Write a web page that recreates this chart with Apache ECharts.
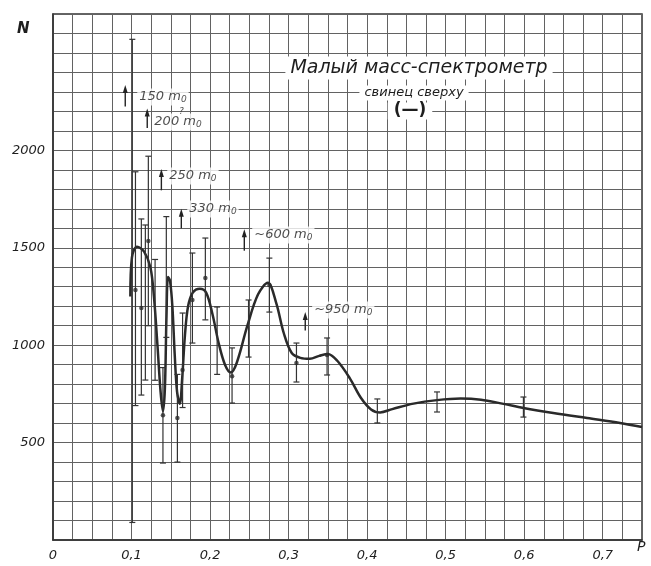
<!DOCTYPE html>
<html>
<head>
<meta charset="utf-8">
<script src="https://cdn.jsdelivr.net/npm/echarts@6/dist/echarts.min.js"></script>
<style>
html,body{margin:0;padding:0;background:#fff;}
#chart{width:651px;height:566px;}
</style>
</head>
<body>
<div id="chart"></div>
<script>
// Smooth curve (P, N)
const curveP = [0.0985,0.1005,0.107,0.116,0.124,0.1285,0.133,0.137,0.140,0.1425,0.1445,0.1465,0.149,0.152,0.155,0.158,0.1615,0.1645,0.168,0.172,0.178,0.187,0.195,0.203,0.211,0.219,0.2265,0.234,0.2475,0.261,0.2735,0.284,0.294,0.304,0.315,0.327,0.339,0.350,0.362,0.378,0.392,0.405,0.4165,0.432,0.459,0.489,0.519,0.545,0.572,0.599,0.637,0.680,0.722,0.750];
const curveN = [1250,1450,1505,1480,1400,1250,1000,760,660,780,1150,1350,1330,1200,950,760,700,830,1050,1200,1270,1290,1270,1160,1010,900,860,910,1100,1260,1320,1220,1060,960,935,930,945,955,920,830,730,670,655,672,700,718,726,720,700,678,652,626,601,580];

// Measured points with error bars
const pointP    = [0.101,0.105,0.1125,0.1176,0.1214,0.130,0.140,0.1443,0.1584,0.165,0.1775,0.194,0.209,0.228,0.249,0.2755,0.310,0.349,0.413,0.489,0.599];
const pointN    = [1330,1283,1191,1220,1535,1130,640,1340,626,873,1232,1345,1027,840,1090,1309,908,950,662,708,683];
const pointLow  = [90,690,744,821,1100,820,395,1040,400,680,1011,1130,850,703,939,1170,811,847,601,657,631];
const pointHigh = [2570,1890,1648,1617,1970,1440,885,1660,850,1165,1473,1550,1196,986,1232,1447,1011,1037,724,760,734];
const pointDot  = [false,true,true,false,true,false,true,false,true,true,true,true,false,true,false,true,true,true,false,false,false];

// Annotation arrows (P, N from, N to) and labels
const arrowP    = [0.092,0.120,0.138,0.1634,0.2436,0.3212];
const arrowFrom = [2225,2115,1795,1600,1485,1075];
const arrowTo   = [2335,2215,1905,1700,1595,1170];
const labelP    = [0.1073,0.1265,0.1455,0.171,0.2537,0.330];
const labelN    = [2274,2146,1868,1699,1565,1180];
const labelPrefix = ['150','200','250','330','~600','~950'];

// Axis ticks
const xTickLabels = ['0','0,1','0,2','0,3','0,4','0,5','0,6','0,7'];
const yTickLabels = ['500','1000','1500','2000'];

const FONT = "'DejaVu Sans', sans-serif";
const INK = '#1e1e1e';

const chart = echarts.init(document.getElementById('chart'), null, {renderer:'canvas'});

const errData = pointP.map((p,i)=>[p, pointN[i], pointLow[i], pointHigh[i]]);
const dotData = pointP.map((p,i)=>[p, pointN[i]]).filter((d,i)=>pointDot[i]);
const arrowData = arrowP.map((p,i)=>[p, arrowFrom[i], arrowTo[i]]);
const labelData = labelP.map((p,i)=>({value:[p, labelN[i]], prefix: labelPrefix[i]}));

const option = {
  backgroundColor:'#fff',
  animation:false,
  grid:{left:53,right:9,top:14,bottom:26,show:true,borderColor:'#333',borderWidth:1.5,backgroundColor:'transparent'},
  xAxis:{
    type:'value',min:0,max:0.75,interval:0.025,
    axisLine:{show:true,lineStyle:{color:'#333',width:1.5}},
    axisTick:{show:false},
    splitLine:{show:true,lineStyle:{color:'#626262',width:1}},
    axisLabel:{
      color:INK,fontFamily:FONT,fontStyle:'italic',fontSize:13,margin:9,
      showMaxLabel:false,
      formatter:function(v){
        const k = Math.round(v*1000);
        if (k % 100 !== 0) return '';
        const idx = k/100;
        return xTickLabels[idx] !== undefined ? xTickLabels[idx] : '';
      }
    }
  },
  yAxis:{
    type:'value',min:0,max:2700,interval:100,
    axisLine:{show:true,lineStyle:{color:'#333',width:1.5}},
    axisTick:{show:false},
    splitLine:{show:true,lineStyle:{color:'#626262',width:1}},
    axisLabel:{
      color:INK,fontFamily:FONT,fontStyle:'italic',fontSize:13,margin:8,
      formatter:function(v){
        const s = String(Math.round(v));
        return yTickLabels.indexOf(s) >= 0 ? s : '';
      }
    }
  },
  graphic:[
    {type:'text',z:100,left:17,top:22,style:{text:'N',font:"italic bold 15px 'DejaVu Sans', sans-serif",fill:INK}},
    {type:'text',z:100,left:637,top:540,style:{text:'P',font:"italic 14px 'DejaVu Sans', sans-serif",fill:INK}},
    {type:'text',z:100,x:419,y:68,style:{text:'Малый масс-спектрометр',font:"italic 19px 'DejaVu Sans', sans-serif",fill:INK,align:'center',verticalAlign:'middle',backgroundColor:'#fff',padding:[2,5]}},
    {type:'text',z:100,x:414,y:93,style:{text:'свинец сверху',font:"italic 13px 'DejaVu Sans', sans-serif",fill:INK,align:'center',verticalAlign:'middle',backgroundColor:'#fff',padding:[1,5]}},
    {type:'text',z:100,x:410,y:111,style:{text:'(—)',font:"bold 17px 'DejaVu Sans', sans-serif",fill:INK,align:'center',verticalAlign:'middle',backgroundColor:'#fff',padding:[0,6]}}
  ],
  series:[
    {
      type:'line',
      data:curveP.map((p,i)=>[p,curveN[i]]),
      smooth:0.35,
      showSymbol:false,
      lineStyle:{color:'#2a2a2a',width:2.5},
      z:3
    },
    {
      type:'custom',
      data:errData,
      z:4,
      renderItem:function(params, api){
        const x = api.value(0), lo = api.value(2), hi = api.value(3);
        const t = api.coord([x,hi]), b = api.coord([x,lo]);
        const c = 3;
        const st = {stroke:'#333',lineWidth:1.2};
        return {type:'group',children:[
          {type:'line',shape:{x1:t[0],y1:t[1],x2:b[0],y2:b[1]},style:st},
          {type:'line',shape:{x1:t[0]-c,y1:t[1],x2:t[0]+c,y2:t[1]},style:st},
          {type:'line',shape:{x1:b[0]-c,y1:b[1],x2:b[0]+c,y2:b[1]},style:st}
        ]};
      }
    },
    {
      type:'scatter',
      data:dotData,
      symbol:'circle',
      symbolSize:4.5,
      itemStyle:{color:'#2a2a2a'},
      z:5
    },
    {
      type:'custom',
      data:arrowData,
      z:6,
      renderItem:function(params, api){
        const x = api.value(0);
        const a = api.coord([x, api.value(1)]), b = api.coord([x, api.value(2)]);
        return {type:'group',children:[
          {type:'line',shape:{x1:a[0],y1:a[1],x2:b[0],y2:b[1]+4},style:{stroke:'#222',lineWidth:1.4}},
          {type:'polygon',shape:{points:[[b[0],b[1]],[b[0]-2.5,b[1]+8],[b[0]+2.5,b[1]+8]]},style:{fill:'#222'}}
        ]};
      }
    },
    {
      type:'scatter',
      data:labelData,
      symbolSize:0,
      z:7,
      label:{
        show:true,position:'right',distance:0,
        formatter:function(p){ return '{m|' + p.data.prefix + ' m}{s|0}'; },
        backgroundColor:'#fff',padding:[1,2],
        rich:{
          m:{fontFamily:FONT,fontStyle:'italic',fontSize:13,color:INK},
          s:{fontFamily:FONT,fontStyle:'italic',fontSize:9,color:INK,padding:[6,0,0,0]}
        }
      }
    },
    {
      type:'scatter',
      data:[[0.1635,2197]],
      symbolSize:0,
      z:8,
      label:{show:true,position:'inside',formatter:'?',fontFamily:FONT,fontStyle:'italic',fontSize:9,color:INK}
    }
  ]
};
chart.setOption(option);
</script>
</body>
</html>
